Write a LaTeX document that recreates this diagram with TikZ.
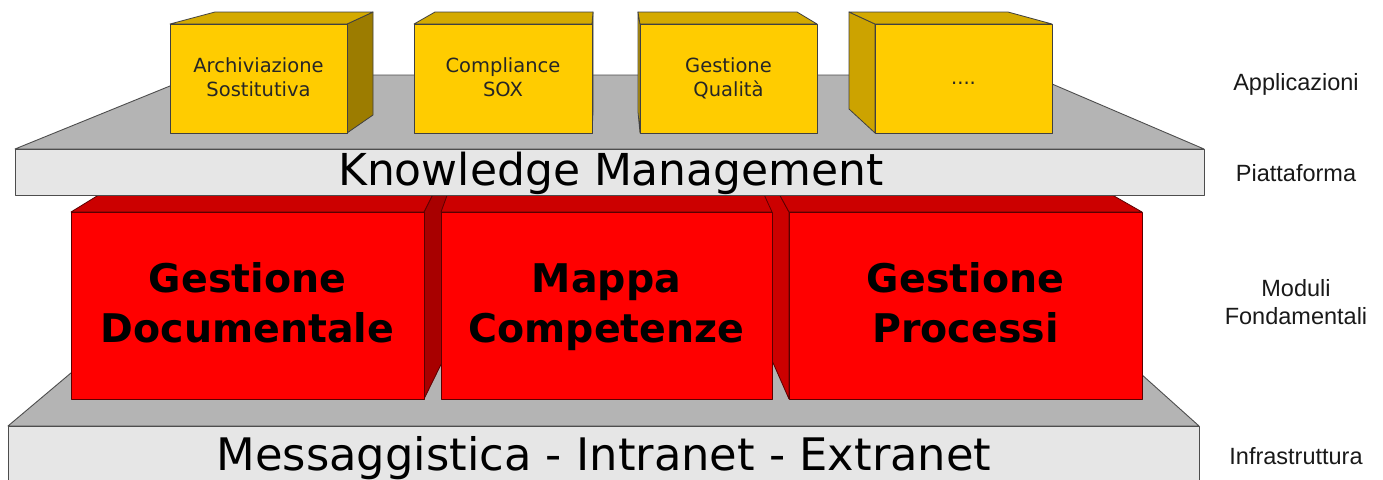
\documentclass[tikz,border=0pt]{standalone}
\usepackage{fontspec}
\setmainfont{DejaVu Sans}
\newfontfamily\labfont{Liberation Sans}
\definecolor{platTop}{HTML}{B4B4B4}
\definecolor{platFront}{HTML}{E6E6E6}
\definecolor{edgeC}{HTML}{4D4D4D}
\definecolor{yFront}{HTML}{FFCC00}
\definecolor{yTop}{HTML}{D4AA00}
\definecolor{yLeft}{HTML}{CCA300}
\definecolor{yRight}{HTML}{9C7C00}
\definecolor{rFront}{HTML}{FF0000}
\definecolor{rTop}{HTML}{CC0000}
\definecolor{rRight}{HTML}{A80000}
\definecolor{rEdge}{HTML}{5A0000}
\tikzset{
  platface/.style={draw=edgeC, line width=0.9pt, line join=round},
  yface/.style={draw=black!75, line width=0.8pt, line join=round},
  rface/.style={draw=rEdge, line width=0.8pt, line join=round},
  bigtext/.style={inner sep=0pt, anchor=base, font=\fontsize{44}{52}\selectfont},
  apptext/.style={inner sep=0pt, align=center, text=black!85, font=\fontsize{19.5}{24}\selectfont},
  modtext/.style={inner sep=0pt, align=center, font=\fontsize{39.5}{50}\selectfont\bfseries},
  layertext/.style={inner sep=0pt, align=center, text=black!90, font=\labfont\fontsize{23.5}{28}\selectfont}
}
\begin{document}
\begin{tikzpicture}[x=1pt,y=-1pt]
\useasboundingbox (0,0) rectangle (1383,479);
% ---- lower platform (infrastructure)
\filldraw[platface, fill=platTop] (8,426) -- (1199,426) -- (1092,330) -- (122,330) -- cycle;
\filldraw[platface, fill=platFront] (8,426) rectangle (1199,485);
\node[bigtext, font=\fontsize{44.8}{52}\selectfont] (infra) at (604,470) {Messaggistica - Intranet - Extranet};
% ---- red module A
\filldraw[rface, fill=rRight] (424,212) -- (435,190) -- (455,190) -- (455,336) -- (424,399) -- cycle;
\filldraw[rface, fill=rTop] (71,212) -- (106.75,190) -- (435,190) -- (424,212) -- cycle;
\filldraw[rface, fill=rFront] (71,212) rectangle (424,399);
% ---- red module C
\filldraw[rface, fill=rTop] (789,212) -- (777,190) -- (755,190) -- (755,322) -- (789,399) -- cycle;
\filldraw[rface, fill=rTop] (789,212) -- (777,190) -- (1103.5,190) -- (1142,212) -- cycle;
\filldraw[rface, fill=rFront] (789,212) rectangle (1142,399);
% ---- red module B
\filldraw[rface, fill=rTop] (441,212) -- (449,190) -- (762,190) -- (772,212) -- cycle;
\filldraw[rface, fill=rFront] (441,212) rectangle (772,399);
\node[modtext] (modA) at (247.5,307) {\strut Gestione\\Documentale\strut};
\node[modtext] (modB) at (606.5,307) {\strut Mappa\\Competenze\strut};
\node[modtext] (modC) at (965.5,307) {\strut Gestione\\Processi\strut};
% ---- upper platform (knowledge management)
\filldraw[platface, fill=platTop] (15,149) -- (1204,149) -- (1031,75) -- (197,75) -- cycle;
\filldraw[platface, fill=platFront] (15,149) rectangle (1204,195);
\node[bigtext] (km) at (611,185) {Knowledge Management};
% ---- yellow application boxes
\filldraw[yface, fill=yRight] (347,24) -- (373,12) -- (373,115) -- (347,133) -- cycle;
\filldraw[yface, fill=yTop] (170,24) -- (215,12) -- (373,12) -- (347,24) -- cycle;
\filldraw[yface, fill=yFront] (170,24) rectangle (347,133);
\filldraw[yface, fill=yRight] (592,24) -- (593,12) -- (593,112) -- (592,133) -- cycle;
\filldraw[yface, fill=yTop] (414,24) -- (435,12) -- (593,12) -- (592,24) -- cycle;
\filldraw[yface, fill=yFront] (414,24) rectangle (592,133);
\filldraw[yface, fill=yLeft] (640,24) -- (638,12) -- (638,112) -- (640,133) -- cycle;
\filldraw[yface, fill=yTop] (640,24) -- (638,12) -- (797,12) -- (817,24) -- cycle;
\filldraw[yface, fill=yFront] (640,24) rectangle (817,133);
\filldraw[yface, fill=yLeft] (875,24) -- (849,12) -- (849,109) -- (875,133) -- cycle;
\filldraw[yface, fill=yTop] (875,24) -- (849,12) -- (1008,12) -- (1052,24) -- cycle;
\filldraw[yface, fill=yFront] (875,24) rectangle (1052,133);
\node[apptext] (app1) at (258.5,80) {\strut Archiviazione\\Sostitutiva\strut};
\node[apptext] (app2) at (503,80) {\strut Compliance\\SOX\strut};
\node[apptext] (app3) at (728.5,80) {\strut Gestione\\Qualità\strut};
\node[apptext] (app4) at (963.5,80) {\strut ....\strut};
% ---- layer labels
\node[layertext, anchor=base] (lApp) at (1296,90) {Applicazioni};
\node[layertext, anchor=base] (lPiat) at (1296,181) {Piattaforma};
\node[layertext] (lMod) at (1296,304.4) {\strut Moduli\\Fondamentali\strut};
\node[layertext, anchor=base] (lInf) at (1296,464) {Infrastruttura};
\end{tikzpicture}
\end{document}
